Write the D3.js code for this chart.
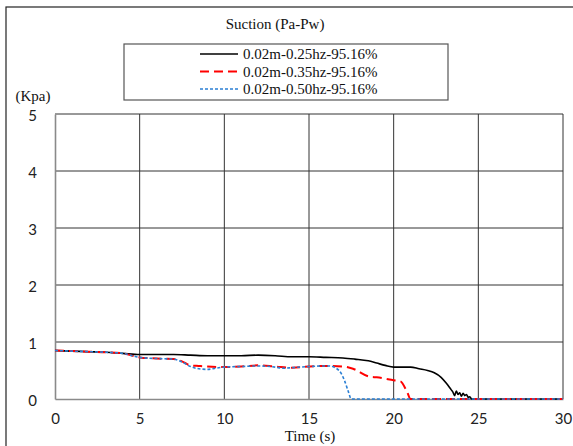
<!DOCTYPE html>
<html>
<head>
<meta charset="utf-8">
<script src="https://cdn.jsdelivr.net/npm/d3@7/dist/d3.min.js"></script>
<style>
  html, body { margin: 0; padding: 0; background: #fff; }
  svg { display: block; }
</style>
</head>
<body>
<svg id="chart" width="573" height="446"></svg>
<script>
// Suction (Pa-Pw) time histories for three loading frequencies
const seriesNames = ["0.02m-0.25hz-95.16%", "0.02m-0.35hz-95.16%", "0.02m-0.50hz-95.16%"];

const timeA = [0, 1, 2, 3, 4, 5, 6, 7, 8, 9, 10, 11, 12, 13, 14, 15, 16, 17, 17.7, 18.5, 19, 19.5, 20, 21, 21.5, 22, 22.4, 22.8, 23.1, 23.4, 23.5, 23.6, 23.7, 23.8, 23.9, 24.0, 24.1, 24.2, 24.3, 24.4, 24.5, 24.6, 30];
const suctionA = [0.85, 0.84, 0.83, 0.82, 0.80, 0.78, 0.78, 0.78, 0.77, 0.76, 0.76, 0.76, 0.77, 0.76, 0.74, 0.74, 0.73, 0.72, 0.70, 0.67, 0.63, 0.59, 0.56, 0.56, 0.53, 0.50, 0.46, 0.38, 0.28, 0.16, 0.12, 0.06, 0.14, 0.08, 0.11, 0.05, 0.10, 0.06, 0.08, 0.03, 0.04, 0, 0];

const timeB = [0, 1, 2, 3, 4, 5, 6, 7, 7.5, 8, 8.5, 9, 10, 11, 12, 13, 14, 15, 16, 17, 17.6, 18.6, 19, 20, 20.4, 20.8, 21, 30];
const suctionB = [0.85, 0.84, 0.83, 0.82, 0.80, 0.73, 0.71, 0.70, 0.66, 0.59, 0.58, 0.57, 0.56, 0.57, 0.59, 0.57, 0.55, 0.57, 0.58, 0.57, 0.53, 0.39, 0.38, 0.33, 0.31, 0.12, 0, 0];

const timeC = [0, 1, 2, 3, 4, 5, 6, 7, 7.5, 8, 8.5, 9, 9.5, 10, 11, 12, 13, 13.5, 14, 15, 16, 16.2, 16.6, 16.9, 17.1, 17.3, 17.5, 30];
const suctionC = [0.85, 0.84, 0.83, 0.82, 0.80, 0.73, 0.71, 0.70, 0.65, 0.57, 0.53, 0.52, 0.54, 0.56, 0.57, 0.58, 0.56, 0.54, 0.55, 0.57, 0.58, 0.58, 0.54, 0.45, 0.32, 0.15, 0, 0];

const xTicks = [0, 5, 10, 15, 20, 25, 30];
const yTicks = [0, 1, 2, 3, 4, 5];

const series = [
  { name: seriesNames[0], t: timeA, v: suctionA, color: "#000000", width: 1.6, dash: null },
  { name: seriesNames[1], t: timeB, v: suctionB, color: "#ff0000", width: 2, dash: "9,5" },
  { name: seriesNames[2], t: timeC, v: suctionC, color: "#2a7fd4", width: 1.6, dash: "3,2" }
];

const svg = d3.select("#chart");
const x = d3.scaleLinear().domain([0, 30]).range([55, 563]);
const y = d3.scaleLinear().domain([0, 5]).range([399, 114]);

const serif = "'Liberation Serif', 'Times New Roman', serif";
const sans = "Lato, 'Open Sans', sans-serif";

// outer frame
svg.append("rect")
  .attr("x", 6).attr("y", 7)
  .attr("width", 580).attr("height", 460)
  .attr("fill", "none").attr("stroke", "#222").attr("stroke-width", 1.2);

// gridlines
const grid = svg.append("g");
grid.selectAll("line.v").data(xTicks.filter(d => d > 0)).join("line")
  .attr("x1", d => x(d)).attr("x2", d => x(d))
  .attr("y1", y(5)).attr("y2", y(0))
  .attr("stroke", "#333").attr("stroke-width", 1);
grid.selectAll("line.h").data(yTicks.filter(d => d > 0)).join("line")
  .attr("x1", x(0)).attr("x2", x(30))
  .attr("y1", d => y(d)).attr("y2", d => y(d))
  .attr("stroke", "#333").attr("stroke-width", 1);

// axes
const xAxis = d3.axisBottom(x).tickValues(xTicks).tickFormat(d3.format("d")).tickSize(0).tickPadding(14);
const yAxis = d3.axisLeft(y).tickValues(yTicks).tickFormat(d3.format("d")).tickSize(0).tickPadding(18);

const gx = svg.append("g").attr("transform", `translate(0,${y(0)})`).call(xAxis);
const gy = svg.append("g").attr("transform", `translate(${x(0)},0)`).call(yAxis);
[gx, gy].forEach(g => {
  g.select(".domain").attr("stroke", "#8a8a8a").attr("stroke-width", 1.6);
  g.selectAll("text").attr("font-family", sans).attr("font-size", 15).attr("fill", "#222");
});
gy.selectAll("text").attr("dy", "0.4em");

// series lines
const line = d3.line().x(d => x(d[0])).y(d => y(d[1])).curve(d3.curveMonotoneX);
series.forEach(s => {
  const pts = s.t.map((t, i) => [t, s.v[i]]);
  svg.append("path")
    .datum(pts)
    .attr("d", line)
    .attr("fill", "none")
    .attr("stroke", s.color)
    .attr("stroke-width", s.width)
    .attr("stroke-dasharray", s.dash);
});

// title
svg.append("text")
  .attr("x", 275).attr("y", 29)
  .attr("text-anchor", "middle")
  .attr("font-family", serif).attr("font-size", 15).attr("fill", "#111")
  .text("Suction (Pa-Pw)");

// legend
const legend = svg.append("g");
legend.append("rect")
  .attr("x", 124).attr("y", 44).attr("width", 324).attr("height", 56)
  .attr("fill", "#fff").attr("stroke", "#555").attr("stroke-width", 1.2);
series.forEach((s, i) => {
  const cy = 54 + i * 17.5;
  legend.append("line")
    .attr("x1", 200).attr("x2", 238).attr("y1", cy).attr("y2", cy)
    .attr("stroke", s.color).attr("stroke-width", s.width)
    .attr("stroke-dasharray", s.dash);
  legend.append("text")
    .attr("x", 243).attr("y", cy).attr("dy", "0.35em")
    .attr("font-family", serif).attr("font-size", 15).attr("fill", "#111")
    .text(s.name);
});

// axis titles
svg.append("text")
  .attr("x", 33).attr("y", 101)
  .attr("text-anchor", "middle")
  .attr("font-family", serif).attr("font-size", 15).attr("fill", "#111")
  .text("(Kpa)");
svg.append("text")
  .attr("x", 310).attr("y", 441)
  .attr("text-anchor", "middle")
  .attr("font-family", serif).attr("font-size", 15).attr("fill", "#111")
  .text("Time (s)");
</script>
</body>
</html>
